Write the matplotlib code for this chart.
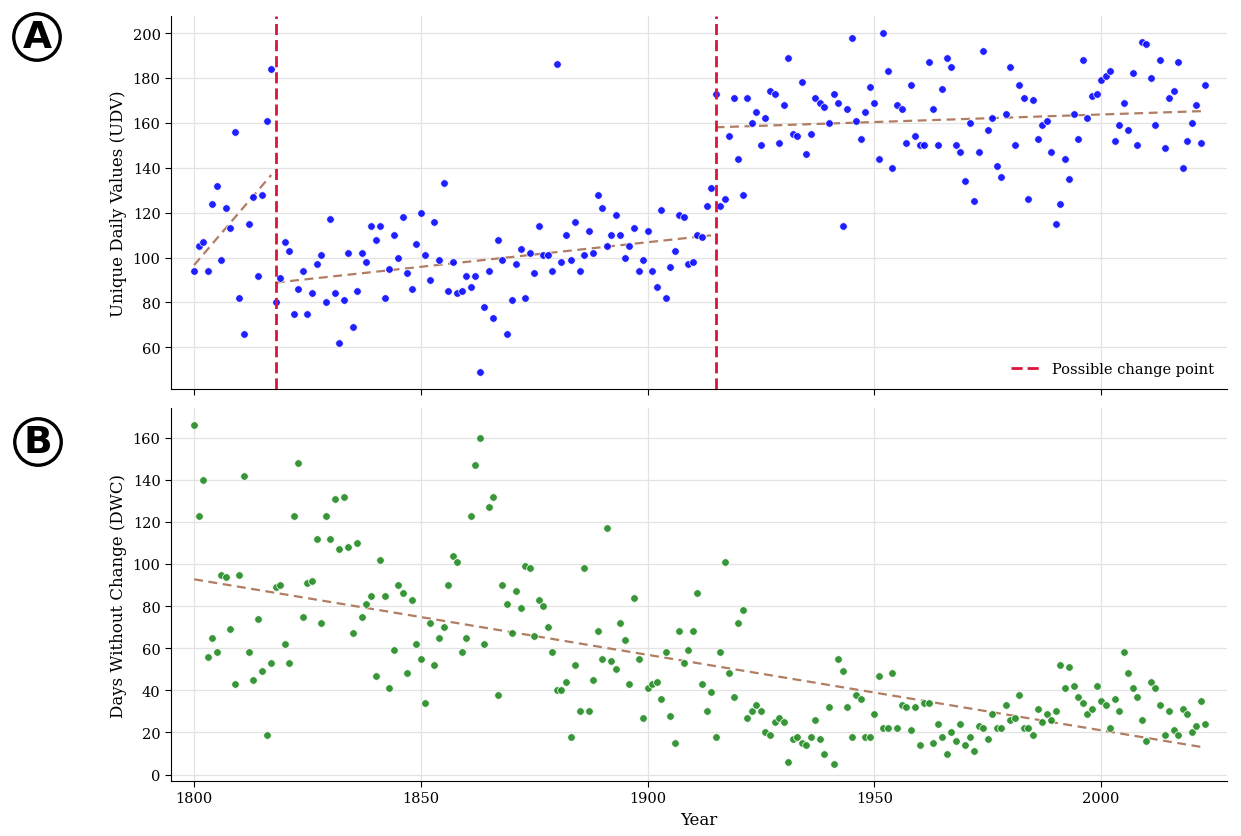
import numpy as np
import matplotlib
matplotlib.use("Agg")
import matplotlib.pyplot as plt

plt.rcParams['font.family'] = ['DejaVu Serif']

years = list(range(1800, 2024))

udv = [94, 105, 107, 94, 124, 132, 99, 122, 113, 156, 82, 66, 115, 127, 92, 128, 161, 184,
       80, 91, 107, 103, 75, 86, 94, 75, 84, 97, 101, 80, 117, 84, 62, 81, 102, 69, 85, 102,
       98, 114, 108, 114, 82, 95, 110, 100, 118, 93, 86, 106, 120, 101, 90, 116, 99, 133,
       85, 98, 84, 85, 92, 87, 92, 49, 78, 94, 73, 108, 99, 66, 81, 97, 104, 82, 102, 93,
       114, 101, 101, 94, 186, 98, 110, 99, 116, 94, 101, 112, 102, 128, 122, 105, 110, 119,
       110, 100, 105, 113, 94, 99, 112, 94, 87, 121, 82, 96, 103, 119, 118, 97, 98, 110,
       109, 123, 131,
       173, 123, 126, 154, 171, 144, 128, 171, 160, 165, 150, 162, 174, 173, 151, 168, 189,
       155, 154, 178, 146, 155, 171, 169, 167, 160, 173, 169, 114, 166, 198, 161, 153, 165,
       176, 169, 144, 200, 183, 140, 168, 166, 151, 177, 154, 150, 150, 187, 166, 150, 175,
       189, 185, 150, 147, 134, 160, 125, 147, 192, 157, 162, 141, 136, 164, 185, 150, 177,
       171, 126, 170, 153, 159, 161, 147, 115, 124, 144, 135, 164, 153, 188, 162, 172, 173,
       179, 181, 183, 152, 159, 169, 157, 182, 150, 196, 195, 180, 159, 188, 149, 171, 174,
       187, 140, 152, 160, 168, 151, 177]

dwc = [166, 123, 140, 56, 65, 58, 95, 94, 69, 43, 95, 142, 58, 45, 74, 49, 19, 53, 89, 90,
       62, 53, 123, 148, 75, 91, 92, 112, 72, 123, 112, 131, 107, 132, 108, 67, 110, 75, 81,
       85, 47, 102, 85, 41, 59, 90, 86, 48, 83, 62, 55, 34, 72, 52, 65, 70, 90, 104, 101, 58,
       65, 123, 147, 160, 62, 127, 132, 38, 90, 81, 67, 87, 79, 99, 98, 66, 83, 80, 70, 58,
       40, 40, 44, 18, 52, 30, 98, 30, 45, 68, 55, 117, 54, 50, 72, 64, 43, 84, 55, 27, 41,
       43, 44, 36, 58, 28, 15, 68, 53, 59, 68, 86, 43, 30, 39, 18, 58, 101, 48, 37, 72, 78,
       27, 30, 33, 30, 20, 19, 25, 27, 25, 6, 17, 18, 15, 14, 18, 26, 17, 10, 32, 5, 55, 49,
       32, 18, 38, 36, 18, 18, 29, 47, 22, 22, 48, 22, 33, 32, 21, 32, 14, 34, 34, 15, 24,
       18, 10, 20, 16, 24, 14, 18, 11, 23, 22, 17, 29, 22, 22, 33, 26, 27, 38, 22, 22, 19,
       31, 25, 29, 26, 30, 52, 41, 51, 42, 37, 34, 29, 31, 42, 35, 33, 22, 36, 30, 58, 48,
       41, 37, 26, 16, 44, 41, 33, 19, 30, 21, 19, 31, 29, 20, 23, 35, 24]

change_points = [1818, 1915]

yrs = np.array(years)
udv_a = np.array(udv, dtype=float)
dwc_a = np.array(dwc, dtype=float)

fig = plt.figure(figsize=(12.41, 8.37), dpi=100)
ax1 = fig.add_axes([0.1378, 0.534, 0.851, 0.4456])
ax2 = fig.add_axes([0.1378, 0.0657, 0.851, 0.4456], sharex=ax1)

trend_color = '#b07d62'
grid_color = '#e3e3e3'

for ax in (ax1, ax2):
    ax.grid(True, color=grid_color, linewidth=0.9)
    ax.set_axisbelow(True)
    ax.spines['top'].set_visible(False)
    ax.spines['right'].set_visible(False)
    ax.tick_params(labelsize=10.5, length=4)

ax1.scatter(yrs, udv_a, s=30, color='blue', alpha=0.88, edgecolors='white',
            linewidths=0.6, zorder=3)

bounds = [yrs[0]] + change_points + [yrs[-1] + 1]
for lo, hi in zip(bounds[:-1], bounds[1:]):
    m = (yrs >= lo) & (yrs < hi)
    c = np.polyfit(yrs[m], udv_a[m], 1)
    xs = np.array([yrs[m][0], yrs[m][-1]])
    ax1.plot(xs, np.polyval(c, xs), color=trend_color, lw=1.6, ls=(0, (4, 2.5)), zorder=2)

for i, cp in enumerate(change_points):
    ax1.axvline(cp, color='#dc143c', lw=2, ls=(0, (4, 1.8)), zorder=4,
                label='Possible change point' if i == 0 else None)

ax1.set_ylabel('Unique Daily Values (UDV)', fontsize=12)
ax1.legend(loc='lower right', frameon=False, fontsize=10.5)
plt.setp(ax1.get_xticklabels(), visible=False)

ax2.scatter(yrs, dwc_a, s=30, color='forestgreen', alpha=0.9, edgecolors='white',
            linewidths=0.6, zorder=3)
c2 = np.polyfit(yrs, dwc_a, 1)
xs2 = np.array([yrs[0], yrs[-1]])
ax2.plot(xs2, np.polyval(c2, xs2), color=trend_color, lw=1.6, ls=(0, (4, 2.5)), zorder=2)
ax2.set_ylabel('Days Without Change (DWC)', fontsize=12)
ax2.set_xlabel('Year', fontsize=12)

ax1.set_xlim(1794.9, 2027.8)
ax1.set_xticks([1800, 1850, 1900, 1950, 2000])
ax1.set_yticks([60, 80, 100, 120, 140, 160, 180, 200])
ax2.set_yticks([0, 20, 40, 60, 80, 100, 120, 140, 160])

for lbl, (fx, fy) in zip(['A', 'B'], [(37 / 1241, 1 - 38 / 837), (38 / 1241, 1 - 443 / 837)]):
    fig.text(fx, fy, lbl, fontsize=27, fontweight='heavy', family='DejaVu Sans',
             ha='center', va='center',
             bbox=dict(boxstyle='circle,pad=0.14', fc='white', ec='black', lw=2.4))

fig.savefig('out.png', dpi=100)
